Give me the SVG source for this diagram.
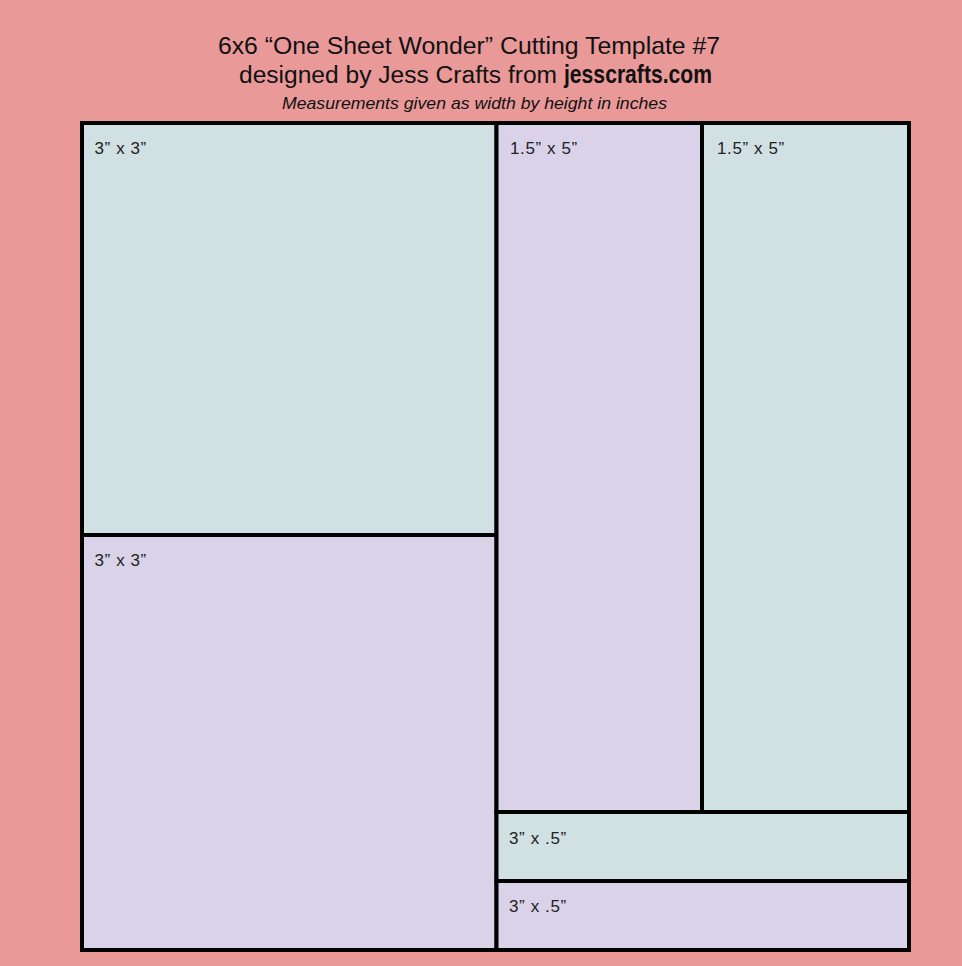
<svg xmlns="http://www.w3.org/2000/svg" width="962" height="966" viewBox="0 0 962 966">
<style>
.t{font-family:"Liberation Sans",Arial,sans-serif;fill:#111}
.lbl{font-family:"Liberation Sans",Arial,sans-serif;font-size:17px;letter-spacing:0.6px;fill:#222}
.blue{fill:#d0e0e3;stroke:#000;stroke-width:4}
.lav{fill:#d9d2e9;stroke:#000;stroke-width:4}
</style>
<rect x="0" y="0" width="962" height="966" fill="#ea9999"/>
<g id="title">
<text class="t" x="469" y="54" font-size="24.8" text-anchor="middle">6x6 “One Sheet Wonder” Cutting Template #7</text>
<text class="t" x="239" y="83" font-size="23.5" textLength="318" lengthAdjust="spacingAndGlyphs">designed by Jess Crafts from</text>
<text class="t" x="564" y="83" font-family="'DejaVu Sans',sans-serif" font-stretch="condensed" font-weight="bold" font-size="26" textLength="148" lengthAdjust="spacingAndGlyphs">jesscrafts.com</text>
<text class="t" x="282" y="109" font-size="17" font-style="italic" textLength="385" lengthAdjust="spacingAndGlyphs">Measurements given as width by height in inches</text>
</g>
<g id="piece-3x3-top">
<rect class="blue" x="82" y="123" width="414.5" height="412"/>
<text class="lbl" x="94.5" y="154">3” x 3”</text>
</g>
<g id="piece-3x3-bottom">
<rect class="lav" x="82" y="535" width="414.5" height="415"/>
<text class="lbl" x="94.5" y="566">3” x 3”</text>
</g>
<g id="piece-1.5x5-a">
<rect class="lav" x="496.5" y="123" width="205.5" height="689"/>
<text class="lbl" x="510" y="154">1.5” x 5”</text>
</g>
<g id="piece-1.5x5-b">
<rect class="blue" x="702" y="123" width="207" height="689"/>
<text class="lbl" x="717" y="154">1.5” x 5”</text>
</g>
<g id="piece-3x05-a">
<rect class="blue" x="496.5" y="812" width="412.5" height="69"/>
<text class="lbl" x="509" y="843.5">3” x .5”</text>
</g>
<g id="piece-3x05-b">
<rect class="lav" x="496.5" y="881" width="412.5" height="69"/>
<text class="lbl" x="509" y="912">3” x .5”</text>
</g>
</svg>
